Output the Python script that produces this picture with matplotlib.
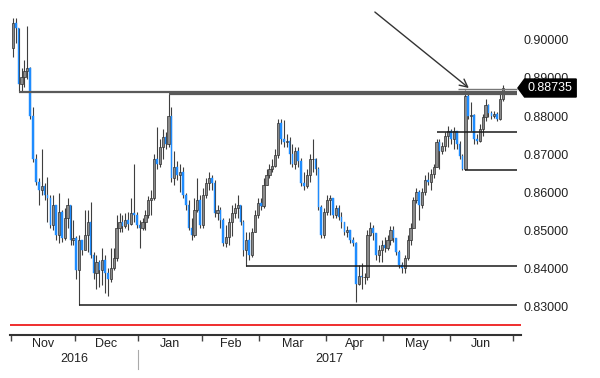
import numpy as np
import pandas as pd
import matplotlib
matplotlib.use("Agg")
import matplotlib.pyplot as plt
from matplotlib.patches import Polygon
from matplotlib.transforms import blended_transform_factory

plt.rcParams['font.family'] = ['Liberation Sans Narrow', 'Liberation Sans', 'DejaVu Sans']

# daily EUR/GBP bars, Nov 2016 - Jun 2017
first_open = 0.8978
closes = [
    0.9044, 0.9031, 0.8885, 0.8903, 0.8919, 0.8925, 0.8800, 0.8686, 0.8628, 0.8607,
    0.8617, 0.8593, 0.8585, 0.8514, 0.8567, 0.8487, 0.8548, 0.8479, 0.8532, 0.8567,
    0.8474, 0.8479, 0.8395, 0.8474, 0.8448, 0.8487, 0.8522, 0.8434, 0.8389, 0.8416,
    0.8395, 0.8421, 0.8389, 0.8373, 0.8400, 0.8426, 0.8506, 0.8522, 0.8511, 0.8527,
    0.8516, 0.8546, 0.8540, 0.8514, 0.8506, 0.8522, 0.8540, 0.8580, 0.8585, 0.8686,
    0.8673, 0.8718, 0.8744, 0.8726, 0.8800, 0.8638, 0.8665, 0.8646, 0.8654, 0.8593,
    0.8567, 0.8506, 0.8487, 0.8554, 0.8580, 0.8514, 0.8593, 0.8625, 0.8638, 0.8625,
    0.8546, 0.8554, 0.8527, 0.8466, 0.8482, 0.8522, 0.8546, 0.8559, 0.8567, 0.8522,
    0.8448, 0.8474, 0.8434, 0.8495, 0.8540, 0.8572, 0.8564, 0.8620, 0.8646, 0.8660,
    0.8670, 0.8697, 0.8781, 0.8739, 0.8731, 0.8734, 0.8699, 0.8673, 0.8707, 0.8681,
    0.8625, 0.8615, 0.8644, 0.8686, 0.8686, 0.8660, 0.8562, 0.8487, 0.8548, 0.8580,
    0.8585, 0.8540, 0.8559, 0.8535, 0.8522, 0.8495, 0.8501, 0.8474, 0.8466, 0.8360,
    0.8381, 0.8376, 0.8376, 0.8487, 0.8506, 0.8493, 0.8434, 0.8448, 0.8461, 0.8453,
    0.8474, 0.8501, 0.8479, 0.8442, 0.8410, 0.8400, 0.8426, 0.8474, 0.8506, 0.8580,
    0.8601, 0.8567, 0.8601, 0.8633, 0.8628, 0.8649, 0.8665, 0.8731, 0.8707, 0.8721,
    0.8747, 0.8760, 0.8739, 0.8760, 0.8726, 0.8694, 0.8662, 0.8853, 0.8800, 0.8803,
    0.8739, 0.8734, 0.8766, 0.8797, 0.8829, 0.8808, 0.8800, 0.8805, 0.8792, 0.8845,
    0.88735]
highs = [
    0.9057, 0.9057, 0.9031, 0.8925, 0.8946, 0.9036, 0.8928, 0.8824, 0.8699, 0.8638,
    0.8713, 0.8625, 0.8641, 0.8593, 0.8593, 0.8567, 0.8599, 0.8554, 0.8559, 0.8585,
    0.8567, 0.8527, 0.8485, 0.8487, 0.8474, 0.8554, 0.8554, 0.8575, 0.8442, 0.8434,
    0.8421, 0.8453, 0.8434, 0.8400, 0.8453, 0.8453, 0.8540, 0.8546, 0.8540, 0.8546,
    0.8548, 0.8585, 0.8673, 0.8548, 0.8527, 0.8532, 0.8554, 0.8591, 0.8607, 0.8699,
    0.8771, 0.8739, 0.8766, 0.8758, 0.8858, 0.8824, 0.8707, 0.8681, 0.8673, 0.8665,
    0.8599, 0.8580, 0.8532, 0.8585, 0.8638, 0.8593, 0.8612, 0.8638, 0.8652, 0.8646,
    0.8633, 0.8567, 0.8562, 0.8532, 0.8514, 0.8532, 0.8567, 0.8572, 0.8593, 0.8567,
    0.8527, 0.8495, 0.8495, 0.8506, 0.8554, 0.8585, 0.8585, 0.8638, 0.8660, 0.8673,
    0.8686, 0.8713, 0.8792, 0.8792, 0.8789, 0.8752, 0.8744, 0.8726, 0.8718, 0.8718,
    0.8690, 0.8654, 0.8660, 0.8699, 0.8739, 0.8691, 0.8665, 0.8567, 0.8559, 0.8593,
    0.8593, 0.8585, 0.8567, 0.8567, 0.8548, 0.8522, 0.8511, 0.8501, 0.8482, 0.8469,
    0.8408, 0.8413, 0.8389, 0.8501, 0.8522, 0.8514, 0.8493, 0.8461, 0.8474, 0.8482,
    0.8487, 0.8511, 0.8511, 0.8479, 0.8448, 0.8416, 0.8434, 0.8487, 0.8519, 0.8588,
    0.8612, 0.8607, 0.8612, 0.8646, 0.8654, 0.8660, 0.8673, 0.8739, 0.8739, 0.8731,
    0.8758, 0.8774, 0.8766, 0.8771, 0.8760, 0.8734, 0.8699, 0.8869, 0.8866, 0.8837,
    0.8805, 0.8752, 0.8779, 0.8805, 0.8845, 0.8832, 0.8813, 0.8813, 0.8811, 0.8858,
    0.8882]
lows = [
    0.8956, 0.8991, 0.8864, 0.8866, 0.8877, 0.8898, 0.8792, 0.8678, 0.8620, 0.8567,
    0.8593, 0.8580, 0.8522, 0.8506, 0.8501, 0.8474, 0.8466, 0.8469, 0.8474, 0.8506,
    0.8461, 0.8461, 0.8373, 0.8304, 0.8434, 0.8448, 0.8442, 0.8426, 0.8373, 0.8347,
    0.8350, 0.8355, 0.8336, 0.8328, 0.8363, 0.8395, 0.8420, 0.8495, 0.8495, 0.8506,
    0.8501, 0.8514, 0.8522, 0.8506, 0.8453, 0.8501, 0.8501, 0.8532, 0.8540, 0.8580,
    0.8660, 0.8665, 0.8686, 0.8713, 0.8718, 0.8628, 0.8620, 0.8633, 0.8601, 0.8585,
    0.8554, 0.8501, 0.8474, 0.8482, 0.8548, 0.8506, 0.8506, 0.8585, 0.8607, 0.8607,
    0.8535, 0.8527, 0.8506, 0.8458, 0.8456, 0.8461, 0.8485, 0.8532, 0.8532, 0.8514,
    0.8432, 0.8405, 0.8421, 0.8429, 0.8495, 0.8532, 0.8554, 0.8559, 0.8620, 0.8638,
    0.8654, 0.8665, 0.8691, 0.8726, 0.8718, 0.8718, 0.8673, 0.8665, 0.8660, 0.8665,
    0.8617, 0.8607, 0.8610, 0.8628, 0.8652, 0.8646, 0.8554, 0.8479, 0.8480, 0.8540,
    0.8540, 0.8532, 0.8532, 0.8527, 0.8506, 0.8487, 0.8482, 0.8466, 0.8458, 0.8312,
    0.8355, 0.8347, 0.8360, 0.8370, 0.8485, 0.8474, 0.8421, 0.8416, 0.8416, 0.8442,
    0.8448, 0.8461, 0.8469, 0.8434, 0.8400, 0.8389, 0.8389, 0.8421, 0.8461, 0.8506,
    0.8572, 0.8527, 0.8559, 0.8593, 0.8620, 0.8607, 0.8638, 0.8665, 0.8660, 0.8699,
    0.8707, 0.8718, 0.8726, 0.8713, 0.8713, 0.8686, 0.8657, 0.8657, 0.8792, 0.8760,
    0.8726, 0.8726, 0.8731, 0.8747, 0.8787, 0.8797, 0.8792, 0.8795, 0.8787, 0.8789,
    0.8840]

# drawn support / resistance lines: (start bar, level)
level_lines = [(2, 0.8864), (54, 0.8858), (23, 0.8305), (81, 0.8405),
               (147, 0.8757), (157, 0.8657)]
price_levels = [0.83, 0.84, 0.85, 0.86, 0.87, 0.88, 0.89, 0.90]
last_price = 0.88735
red_level = 0.8250
month_names = ["Nov", "Dec", "Jan", "Feb", "Mar", "Apr", "May", "Jun"]
year_names = ["2016", "2017"]

n = len(closes)
x = np.arange(n)
c = np.array(closes)
o = np.array([first_open] + closes[:-1])
h = np.maximum(np.array(highs), np.maximum(o, c))
l = np.minimum(np.array(lows), np.minimum(o, c))

dates = pd.bdate_range("2016-11-01", "2017-07-31")
bounds = [i - 0.5 for i in range(len(dates)) if i == 0 or dates[i].month != dates[i - 1].month]
bounds = bounds[:9]

fig = plt.figure(figsize=(6, 3.78), dpi=100)
ax = fig.add_axes([10 / 600, 43 / 378, 511 / 600, 335 / 378])
ax.set_xlim(-1.0, 176.3)
ax.set_ylim(0.8225, 0.91046)

# candles
ax.vlines(x, l, h, color="#3f3f3f", lw=0.8, zorder=2)
up = c >= o
body = np.maximum(np.abs(c - o), 0.0002)
bottom = np.minimum(o, c)
ax.bar(x[up], body[up], bottom=bottom[up], width=0.8, color="#8a8a8a",
       edgecolor="#2e2e2e", lw=0.5, zorder=3)
ax.bar(x[~up], body[~up], bottom=bottom[~up], width=0.55, color="#1e8cff",
       edgecolor="#1e8cff", lw=0.3, zorder=3)

# horizontal lines
for start, lev in level_lines:
    lw = 1.6 if lev > 0.885 else 1.1
    col = "#5a5a5a" if lev > 0.885 else "#1a1a1a"
    ax.hlines(lev, start, 174.9, color=col, lw=lw, zorder=4)
ax.hlines(0.8871, 154.4, 174.9, color="#777777", lw=1.0, zorder=4)
ax.axhline(red_level, color="#ee1c1c", lw=1.3, zorder=4)

# arrow
ax.annotate("", xy=(158.2, 0.88735), xytext=(125.6, 0.9073),
            arrowprops=dict(arrowstyle="->", color="#333333", lw=1.0,
                            mutation_scale=14, shrinkA=0, shrinkB=0), zorder=5)

# axes styling
for s in ["top", "left", "right"]:
    ax.spines[s].set_visible(False)
ax.spines["bottom"].set_color("#333333")
ax.spines["bottom"].set_linewidth(1.5)
ax.yaxis.tick_right()
ax.set_yticks(price_levels)
ax.set_yticklabels(["%.5f" % v for v in price_levels], fontsize=9, color="#222222")
ax.tick_params(axis="y", length=0, pad=2)
ax.set_xticks(bounds)
ax.set_xticklabels([])
ax.tick_params(axis="x", direction="out", length=4, width=1, color="#444444")

trans = blended_transform_factory(ax.transData, ax.transAxes)
for k, name in enumerate(month_names):
    ax.text((bounds[k] + bounds[k + 1]) / 2, -0.028, name, transform=trans,
            ha="center", va="center", fontsize=9, color="#222222")
ax.text((-1.0 + bounds[2]) / 2, -0.073, year_names[0], transform=trans,
        ha="center", va="center", fontsize=9, color="#222222")
ax.text((bounds[2] + 176.3) / 2, -0.073, year_names[1], transform=trans,
        ha="center", va="center", fontsize=9, color="#222222")
ax.plot([bounds[2], bounds[2]], [-0.045, -0.10], transform=trans, color="#aaaaaa",
        lw=0.8, clip_on=False)

# last price tag
tag = blended_transform_factory(ax.transAxes, ax.transData)
d = 0.00236
pts = [(0.994, last_price), (1.007, last_price + d), (1.108, last_price + d),
       (1.108, last_price - d), (1.007, last_price - d)]
ax.add_patch(Polygon(pts, closed=True, transform=tag, facecolor="black",
                     edgecolor="black", clip_on=False, zorder=10))
ax.text(1.012, last_price, "%.5f" % last_price, transform=tag, color="white",
        fontsize=9, va="center", ha="left", zorder=11, clip_on=False)

fig.savefig("out.png", dpi=100)
